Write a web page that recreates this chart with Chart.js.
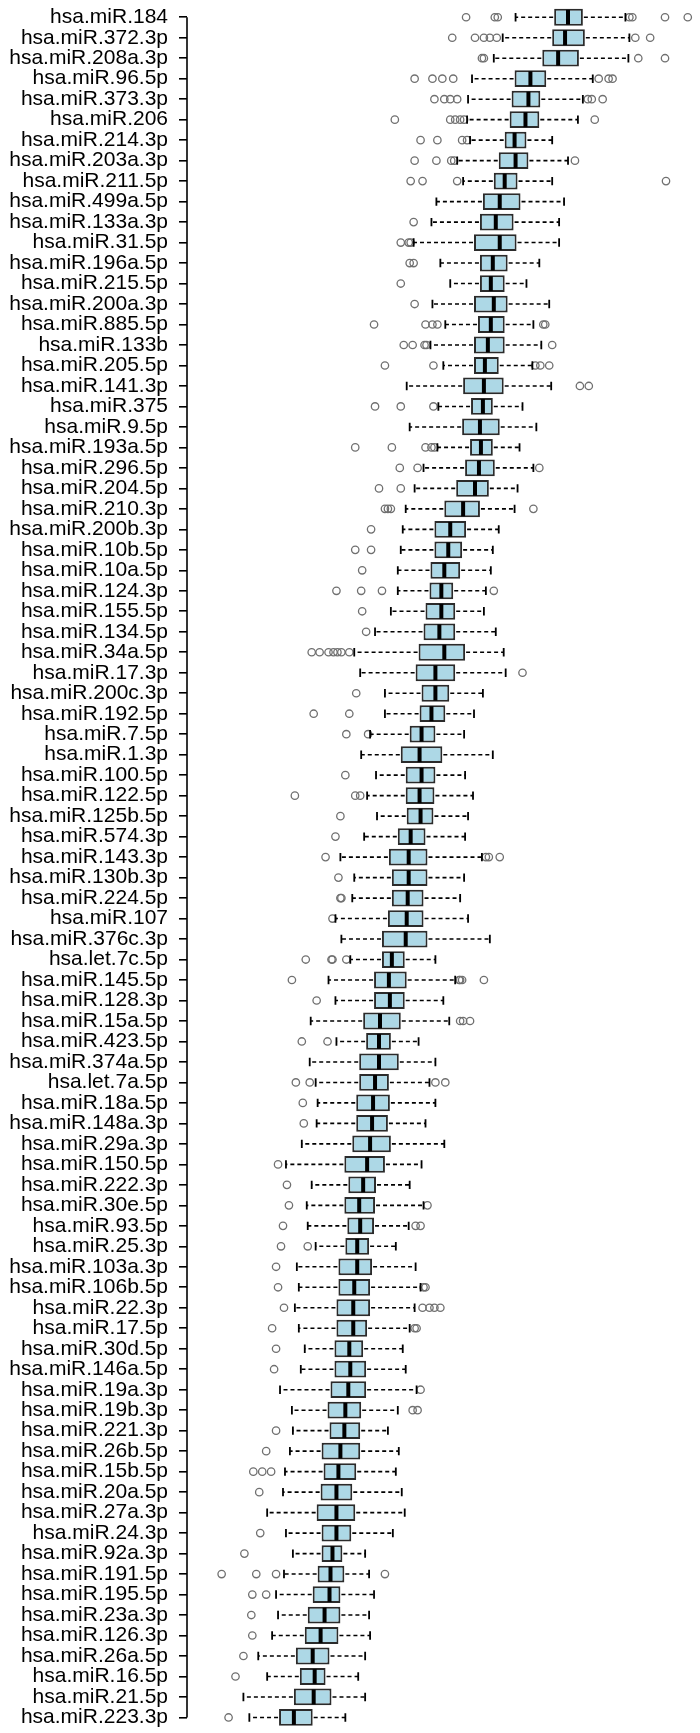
<!DOCTYPE html>
<html>
<head>
<meta charset="utf-8">
<script src="https://cdn.jsdelivr.net/npm/chart.js@4.4.1/dist/chart.umd.min.js"></script>
<style>
  html, body { margin: 0; padding: 0; background: #fff; }
  #wrap { width: 700px; height: 1733px; }
</style>
</head>
<body>
<div id="wrap"><canvas id="boxChart" width="700" height="1733"></canvas></div>
<script>
// miRNA names, top to bottom
const labels = [
  'hsa.miR.184', 'hsa.miR.372.3p', 'hsa.miR.208a.3p', 'hsa.miR.96.5p', 'hsa.miR.373.3p',
  'hsa.miR.206', 'hsa.miR.214.3p', 'hsa.miR.203a.3p', 'hsa.miR.211.5p', 'hsa.miR.499a.5p',
  'hsa.miR.133a.3p', 'hsa.miR.31.5p', 'hsa.miR.196a.5p', 'hsa.miR.215.5p', 'hsa.miR.200a.3p',
  'hsa.miR.885.5p', 'hsa.miR.133b', 'hsa.miR.205.5p', 'hsa.miR.141.3p', 'hsa.miR.375',
  'hsa.miR.9.5p', 'hsa.miR.193a.5p', 'hsa.miR.296.5p', 'hsa.miR.204.5p', 'hsa.miR.210.3p',
  'hsa.miR.200b.3p', 'hsa.miR.10b.5p', 'hsa.miR.10a.5p', 'hsa.miR.124.3p', 'hsa.miR.155.5p',
  'hsa.miR.134.5p', 'hsa.miR.34a.5p', 'hsa.miR.17.3p', 'hsa.miR.200c.3p', 'hsa.miR.192.5p',
  'hsa.miR.7.5p', 'hsa.miR.1.3p', 'hsa.miR.100.5p', 'hsa.miR.122.5p', 'hsa.miR.125b.5p',
  'hsa.miR.574.3p', 'hsa.miR.143.3p', 'hsa.miR.130b.3p', 'hsa.miR.224.5p', 'hsa.miR.107',
  'hsa.miR.376c.3p', 'hsa.let.7c.5p', 'hsa.miR.145.5p', 'hsa.miR.128.3p', 'hsa.miR.15a.5p',
  'hsa.miR.423.5p', 'hsa.miR.374a.5p', 'hsa.let.7a.5p', 'hsa.miR.18a.5p', 'hsa.miR.148a.3p',
  'hsa.miR.29a.3p', 'hsa.miR.150.5p', 'hsa.miR.222.3p', 'hsa.miR.30e.5p', 'hsa.miR.93.5p',
  'hsa.miR.25.3p', 'hsa.miR.103a.3p', 'hsa.miR.106b.5p', 'hsa.miR.22.3p', 'hsa.miR.17.5p',
  'hsa.miR.30d.5p', 'hsa.miR.146a.5p', 'hsa.miR.19a.3p', 'hsa.miR.19b.3p', 'hsa.miR.221.3p',
  'hsa.miR.26b.5p', 'hsa.miR.15b.5p', 'hsa.miR.20a.5p', 'hsa.miR.27a.3p', 'hsa.miR.24.3p',
  'hsa.miR.92a.3p', 'hsa.miR.191.5p', 'hsa.miR.195.5p', 'hsa.miR.23a.3p', 'hsa.miR.126.3p',
  'hsa.miR.26a.5p', 'hsa.miR.16.5p', 'hsa.miR.21.5p', 'hsa.miR.223.3p'
];

// box statistics
const whiskerLow = [
  33.2, 31.9, 31.0, 28.8, 28.4, 28.3, 28.6, 27.3, 27.9, 25.2,
  24.7, 22.9, 25.6, 26.6, 24.8, 26.1, 24.6, 25.9, 22.2, 25.4,
  22.5, 25.3, 23.9, 23.0, 22.1, 21.8, 21.6, 21.3, 21.3, 20.6,
  19.0, 16.9, 17.5, 20.0, 20.0, 18.5, 17.6, 19.1, 18.2, 19.2,
  17.9, 15.5, 16.9, 16.7, 15.0, 15.6, 16.5, 14.3, 15.0, 12.5,
  15.1, 12.4, 13.0, 13.2, 13.1, 11.6, 10.0, 12.6, 12.1, 12.2,
  13.0, 11.1, 11.3, 10.9, 11.3, 11.9, 11.5, 9.4, 10.6, 10.7,
  10.4, 9.9, 9.7, 8.1, 10.0, 10.7, 9.8, 9.0, 9.2, 8.6,
  7.2, 8.1, 5.7, 6.3
];
const boxLow = [
  37.1, 36.9, 35.9, 33.1, 32.8, 32.6, 32.1, 31.5, 31.0, 29.9,
  29.6, 29.0, 29.6, 29.6, 29.0, 29.4, 29.0, 29.0, 27.9, 28.7,
  27.8, 28.6, 28.1, 27.2, 26.0, 25.0, 25.0, 24.6, 24.5, 24.1,
  23.9, 23.4, 23.1, 23.7, 23.5, 22.5, 21.6, 22.1, 22.1, 22.2,
  21.3, 20.4, 20.7, 20.7, 20.3, 19.7, 19.7, 18.9, 18.9, 17.8,
  18.1, 17.4, 17.4, 17.1, 17.1, 16.7, 15.9, 16.3, 15.9, 16.2,
  16.0, 15.3, 15.3, 15.1, 15.1, 14.9, 14.9, 14.5, 14.2, 14.4,
  13.6, 13.8, 13.5, 13.1, 13.6, 13.6, 13.2, 12.7, 12.2, 11.9,
  11.0, 11.4, 10.8, 9.3
];
const medians = [
  38.5, 38.2, 37.5, 34.7, 34.5, 34.2, 33.1, 33.2, 32.1, 31.6,
  31.2, 31.6, 30.9, 30.7, 31.0, 30.7, 30.4, 30.1, 30.0, 29.9,
  29.6, 29.7, 29.5, 29.1, 27.9, 26.6, 26.4, 26.0, 25.7, 25.7,
  25.5, 26.0, 25.1, 25.1, 24.7, 23.7, 23.5, 23.7, 23.5, 23.6,
  22.6, 22.4, 22.4, 22.3, 22.2, 22.1, 20.7, 20.4, 20.5, 19.5,
  19.4, 19.4, 19.0, 18.8, 18.7, 18.5, 18.2, 17.8, 17.4, 17.5,
  17.2, 17.2, 16.9, 16.8, 16.8, 16.4, 16.5, 16.3, 16.0, 15.9,
  15.5, 15.3, 15.1, 15.1, 15.1, 14.7, 14.5, 14.4, 13.9, 13.5,
  12.7, 12.9, 12.8, 10.8
];
const boxHigh = [
  40.0, 40.2, 39.6, 36.3, 35.7, 35.6, 34.3, 34.5, 33.4, 33.7,
  33.0, 33.3, 32.4, 32.1, 32.4, 32.1, 32.1, 31.5, 32.0, 30.9,
  31.6, 30.9, 31.1, 30.5, 29.6, 28.2, 27.8, 27.6, 26.9, 27.1,
  27.1, 28.1, 27.1, 26.5, 26.1, 25.1, 25.8, 25.1, 25.0, 24.9,
  24.1, 24.3, 24.3, 23.9, 23.9, 24.3, 22.0, 22.2, 22.0, 21.6,
  20.6, 21.4, 20.4, 20.5, 20.3, 20.6, 20.0, 19.1, 19.0, 18.9,
  18.4, 18.7, 18.5, 18.5, 18.2, 17.8, 18.1, 18.1, 17.6, 17.5,
  17.5, 17.1, 16.7, 17.0, 16.6, 15.7, 15.9, 15.5, 15.5, 15.3,
  14.4, 14.0, 14.6, 12.7
];
const whiskerHigh = [
  44.3, 44.7, 44.6, 41.0, 40.0, 39.5, 36.9, 38.5, 36.9, 38.1,
  37.6, 37.6, 35.6, 34.3, 36.6, 35.0, 35.8, 34.9, 36.8, 33.9,
  35.3, 33.6, 35.0, 33.4, 33.1, 31.5, 30.9, 30.7, 30.2, 30.0,
  31.2, 32.0, 32.2, 29.9, 29.0, 28.0, 30.9, 28.1, 28.9, 28.4,
  28.1, 29.8, 28.0, 27.6, 28.4, 30.6, 25.1, 27.1, 25.9, 26.5,
  23.4, 25.1, 24.5, 25.1, 24.1, 26.0, 23.7, 22.5, 23.9, 22.4,
  21.1, 23.1, 23.6, 23.0, 22.5, 21.8, 22.1, 23.2, 21.3, 20.3,
  21.4, 21.1, 21.7, 22.0, 20.8, 18.0, 18.4, 18.9, 18.4, 18.5,
  18.0, 17.3, 18.0, 16.0
];
const outliers = [
  [28.2, 31.1, 31.4, 44.7, 45.0, 48.3, 50.6],
  [26.8, 29.1, 30.0, 30.6, 31.3, 45.3, 46.8],
  [29.8, 30.0, 45.6, 48.3],
  [23.0, 24.8, 25.8, 26.9, 41.6, 42.6, 43.0],
  [25.0, 26.0, 26.6, 27.3, 40.5, 40.9, 42.0],
  [21.0, 26.6, 27.1, 27.6, 28.0, 41.2],
  [23.6, 25.3, 27.8, 28.3],
  [23.0, 25.2, 26.7, 27.0, 39.2],
  [22.6, 23.8, 27.3, 48.4],
  [],
  [22.9],
  [21.6, 22.4, 22.6],
  [22.5, 22.9],
  [21.6],
  [23.0],
  [18.9, 24.1, 24.8, 25.3, 36.0, 36.2],
  [21.9, 22.8, 24.0, 24.2, 36.9],
  [20.0, 24.9, 35.2, 35.7, 36.6],
  [39.7, 40.6],
  [19.0, 21.6, 24.9],
  [],
  [17.0, 20.7, 24.1, 24.7, 25.0],
  [21.5, 23.3, 35.6],
  [19.4, 21.6],
  [20.0, 20.3, 20.6, 35.0],
  [18.6],
  [17.0, 18.6],
  [17.7],
  [15.1, 17.6, 19.7, 31.0],
  [17.7],
  [18.1],
  [12.6, 13.4, 14.3, 14.8, 15.2, 15.6, 16.4],
  [33.9],
  [17.1],
  [12.8, 16.4],
  [16.1, 18.3],
  [],
  [16.0],
  [10.9, 17.0, 17.5],
  [15.5],
  [15.0],
  [14.0, 30.2, 30.5, 31.6],
  [15.3],
  [15.5, 15.6],
  [14.7],
  [],
  [12.0, 14.6, 14.7, 16.1],
  [10.6, 27.5, 27.6, 27.8, 30.0],
  [13.1],
  [27.6, 27.9, 28.6],
  [11.6, 14.2],
  [],
  [11.0, 12.4, 25.1, 26.1],
  [11.7],
  [11.8],
  [],
  [9.2],
  [10.1],
  [10.3, 24.3],
  [9.7, 23.1, 23.6],
  [9.5, 12.2],
  [9.0],
  [9.2, 23.9, 24.1],
  [9.8, 23.8, 24.5, 25.0, 25.6],
  [8.6, 23.0, 23.2],
  [9.0],
  [8.8],
  [23.6],
  [22.8, 23.3],
  [9.0],
  [8.0],
  [6.7, 7.6, 8.5],
  [7.3],
  [],
  [7.4],
  [5.8],
  [3.5, 7.0, 9.0, 20.0],
  [6.6, 8.0],
  [6.5],
  [6.6],
  [5.7],
  [4.9],
  [],
  [4.2]
];

const BOX_FRACTION = 0.82;
const LABEL_FAMILY = "'Liberation Sans', Arial, sans-serif";

// pick the label size so that the longest names span about 147px, as in the original
function labelSize() {
  const c = document.createElement('canvas').getContext('2d');
  c.font = '100px ' + LABEL_FAMILY;
  const w = c.measureText('hsa.miR.372.3p').width;
  return Math.round(100 * 147 / w * 10) / 10;
}

// whiskers, staples, medians and the left axis line
const boxExtras = {
  id: 'boxExtras',
  afterDatasetsDraw(chart) {
    const { ctx, scales: { x, y } } = chart;
    const band = Math.abs(y.getPixelForValue(1) - y.getPixelForValue(0));
    const half = band * BOX_FRACTION / 2;
    ctx.save();
    ctx.strokeStyle = '#000';
    labels.forEach((name, i) => {
      const cy = y.getPixelForValue(i);
      const xwl = x.getPixelForValue(whiskerLow[i]);
      const xq1 = x.getPixelForValue(boxLow[i]);
      const xmd = x.getPixelForValue(medians[i]);
      const xq3 = x.getPixelForValue(boxHigh[i]);
      const xwh = x.getPixelForValue(whiskerHigh[i]);

      ctx.lineWidth = 1.6;
      ctx.setLineDash([4, 3]);
      ctx.beginPath();
      ctx.moveTo(xq1 - 1, cy); ctx.lineTo(xwl, cy);
      ctx.moveTo(xq3 + 1, cy); ctx.lineTo(xwh, cy);
      ctx.stroke();

      ctx.setLineDash([]);
      ctx.lineWidth = 1.8;
      ctx.beginPath();
      ctx.moveTo(xwl, cy - half / 2); ctx.lineTo(xwl, cy + half / 2);
      ctx.moveTo(xwh, cy - half / 2); ctx.lineTo(xwh, cy + half / 2);
      ctx.stroke();

      ctx.lineWidth = 4;
      ctx.beginPath();
      ctx.moveTo(xmd, cy - half + 1); ctx.lineTo(xmd, cy + half - 1);
      ctx.stroke();
    });

    const ax = chart.chartArea.left;
    ctx.lineWidth = 1.6;
    ctx.beginPath();
    ctx.moveTo(ax, y.getPixelForValue(0));
    ctx.lineTo(ax, y.getPixelForValue(labels.length - 1));
    ctx.stroke();
    ctx.restore();
  }
};

const outlierPoints = outliers.flatMap((vals, i) => vals.map(v => ({ x: v, y: labels[i] })));

new Chart(document.getElementById('boxChart'), {
  type: 'bar',
  data: {
    labels: labels,
    datasets: [
      {
        type: 'scatter',
        data: outlierPoints,
        showLine: false,
        pointStyle: 'circle',
        pointRadius: 3.7,
        pointBorderWidth: 1.3,
        pointBorderColor: '#707070',
        pointBackgroundColor: 'rgba(0,0,0,0)'
      },
      {
        data: boxLow.map((v, i) => [v, boxHigh[i]]),
        backgroundColor: '#ADD8E6',
        borderColor: '#2b2b2b',
        borderWidth: 2,
        borderSkipped: false,
        barPercentage: BOX_FRACTION,
        categoryPercentage: 1
      }
    ]
  },
  options: {
    indexAxis: 'y',
    responsive: false,
    animation: false,
    layout: { padding: { top: 7, bottom: 0, left: 0, right: 0 } },
    plugins: {
      legend: { display: false },
      tooltip: { enabled: false }
    },
    scales: {
      x: {
        type: 'linear',
        display: false,
        min: 0,
        max: 51.3
      },
      y: {
        type: 'category',
        offset: true,
        border: { display: false },
        grid: {
          offset: false,
          drawOnChartArea: false,
          drawTicks: true,
          tickLength: 8,
          color: '#000',
          lineWidth: 1.6
        },
        ticks: {
          autoSkip: false,
          padding: 11,
          color: '#000',
          font: { family: LABEL_FAMILY, size: labelSize() }
        },
        afterFit: function(scale) {
          scale.width = 187;
          scale.paddingTop = 0;
          scale.paddingBottom = 0;
        }
      }
    }
  },
  plugins: [boxExtras]
});
</script>
</body>
</html>
